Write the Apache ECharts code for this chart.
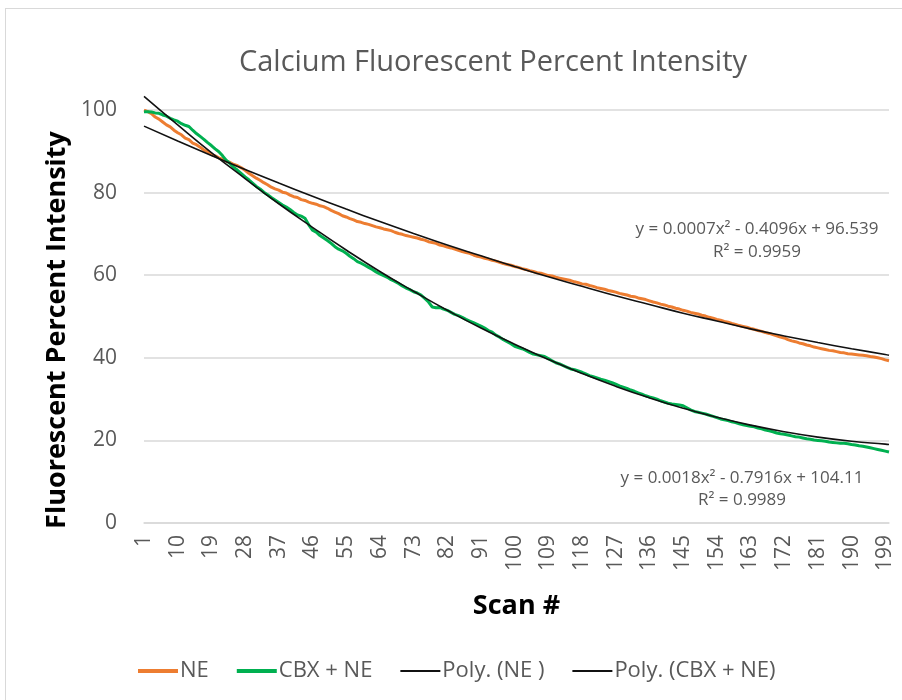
<!DOCTYPE html>
<html>
<head>
<meta charset="utf-8">
<script src="https://cdn.jsdelivr.net/npm/echarts@6/dist/echarts.min.js"></script>
<style>
  html, body { margin: 0; padding: 0; background: #fff; overflow: hidden; }
  #frame { position: absolute; left: 5px; top: 8px; width: 900px; height: 700px; border: 1px solid #d9d9d9; box-sizing: border-box; }
  #chart { position: absolute; left: 0; top: 0; width: 902px; height: 700px; }
</style>
</head>
<body>
<div id="frame"></div>
<div id="chart"></div>
<script>
// scans 1..200
const scans = Array.from({ length: 200 }, (_, i) => String(i + 1))

const neValues = [
  100.0, 99.6, 99.1, 98.3, 97.8, 97.1, 96.4, 95.9, 95.1, 94.5,
  94.0, 93.2, 92.8, 92.0, 91.6, 91.0, 90.3, 89.9, 89.2, 88.9,
  88.4, 88.1, 87.6, 87.3, 86.8, 86.5, 86.0, 85.4, 84.7, 84.1,
  83.5, 83.0, 82.4, 81.9, 81.3, 80.9, 80.6, 80.1, 79.9, 79.4,
  79.0, 78.8, 78.3, 78.1, 77.7, 77.4, 77.2, 76.8, 76.6, 76.2,
  75.7, 75.3, 74.9, 74.4, 74.1, 73.7, 73.4, 73.0, 72.8, 72.5,
  72.3, 72.0, 71.7, 71.5, 71.2, 71.0, 70.8, 70.4, 70.1, 69.9,
  69.6, 69.4, 69.2, 69.0, 68.7, 68.5, 68.1, 67.9, 67.7, 67.3,
  67.1, 66.8, 66.6, 66.3, 66.0, 65.7, 65.5, 65.3, 64.9, 64.6,
  64.4, 64.1, 63.9, 63.6, 63.4, 63.1, 62.8, 62.6, 62.4, 62.1,
  61.9, 61.6, 61.4, 61.1, 60.9, 60.6, 60.5, 60.2, 59.9, 59.8,
  59.5, 59.3, 59.1, 58.9, 58.7, 58.4, 58.2, 57.9, 57.8, 57.5,
  57.3, 57.0, 56.8, 56.6, 56.3, 56.1, 55.9, 55.6, 55.4, 55.2,
  54.9, 54.8, 54.5, 54.3, 54.1, 53.8, 53.5, 53.3, 53.0, 52.8,
  52.5, 52.3, 52.0, 51.8, 51.5, 51.3, 51.0, 50.8, 50.6, 50.3,
  50.1, 49.8, 49.6, 49.3, 49.1, 48.8, 48.6, 48.3, 48.1, 47.8,
  47.6, 47.4, 47.1, 46.9, 46.6, 46.4, 46.1, 45.9, 45.6, 45.3,
  45.0, 44.8, 44.4, 44.1, 43.9, 43.6, 43.4, 43.1, 42.9, 42.6,
  42.4, 42.2, 42.0, 41.8, 41.7, 41.5, 41.3, 41.2, 41.0, 40.9,
  40.8, 40.7, 40.6, 40.5, 40.3, 40.2, 40.0, 39.8, 39.5, 39.3
]

const cbxValues = [
  99.6, 99.6, 99.5, 99.3, 99.2, 98.8, 98.5, 98.0, 97.6, 97.3,
  96.7, 96.3, 96.0, 95.1, 94.3, 93.6, 92.9, 92.1, 91.4, 90.6,
  89.9, 88.9, 87.8, 87.0, 86.1, 85.4, 84.6, 83.8, 83.1, 82.3,
  81.5, 80.9, 80.1, 79.5, 78.8, 78.2, 77.6, 77.0, 76.5, 75.9,
  75.2, 74.6, 74.3, 73.8, 72.2, 70.9, 70.4, 69.6, 69.0, 68.4,
  67.7, 66.9, 66.3, 65.9, 65.3, 64.6, 64.0, 63.3, 62.9, 62.4,
  61.9, 61.4, 60.8, 60.3, 59.9, 59.5, 58.9, 58.5, 58.0, 57.4,
  56.9, 56.5, 56.0, 55.7, 55.2, 54.4, 53.5, 52.3, 52.1, 52.2,
  51.8, 51.5, 51.0, 50.5, 50.2, 49.8, 49.3, 48.9, 48.5, 48.1,
  47.7, 47.2, 46.6, 46.2, 45.5, 45.0, 44.4, 43.9, 43.4, 42.8,
  42.5, 42.2, 41.8, 41.3, 40.9, 40.7, 40.5, 40.3, 39.8, 39.3,
  38.8, 38.5, 38.1, 37.7, 37.3, 37.1, 36.8, 36.5, 36.1, 35.7,
  35.4, 35.1, 34.8, 34.6, 34.3, 34.0, 33.6, 33.2, 32.9, 32.6,
  32.2, 31.9, 31.5, 31.2, 30.8, 30.5, 30.3, 30.0, 29.6, 29.3,
  29.0, 28.8, 28.7, 28.6, 28.4, 27.9, 27.4, 27.0, 26.8, 26.6,
  26.4, 26.1, 25.8, 25.5, 25.2, 25.0, 24.8, 24.5, 24.3, 24.0,
  23.8, 23.6, 23.4, 23.3, 23.0, 22.8, 22.5, 22.3, 22.1, 21.8,
  21.6, 21.5, 21.3, 21.1, 20.9, 20.8, 20.6, 20.4, 20.3, 20.1,
  20.0, 19.9, 19.8, 19.6, 19.5, 19.4, 19.3, 19.3, 19.2, 19.0,
  18.9, 18.7, 18.6, 18.4, 18.2, 18.0, 17.8, 17.6, 17.4, 17.2
]

// trendline values read at scans 1, 10, 19, ... 199 and 200
const trendScans = [1, 10, 19, 28, 37, 46, 55, 64, 73, 82, 91, 100, 109, 118, 127, 136, 145, 154, 163, 172, 181, 190, 199, 200]
const neTrend = [96.1, 92.5, 89.0, 85.6, 82.3, 79.1, 76.0, 73.0, 70.1, 67.3, 64.7, 62.1, 59.6, 57.3, 55.0, 52.9, 50.8, 48.9, 47.0, 45.3, 43.7, 42.2, 40.8, 40.6]
const cbxTrend = [103.3, 96.4, 89.7, 83.4, 77.3, 71.6, 66.1, 60.9, 56.1, 51.5, 47.2, 43.3, 39.6, 36.2, 33.1, 30.3, 27.8, 25.6, 23.7, 22.1, 20.8, 19.8, 19.1, 19.0]

const neEquation = ['y = 0.0007x² - 0.4096x + 96.539', 'R² = 0.9959']
const cbxEquation = ['y = 0.0018x² - 0.7916x + 104.11', 'R² = 0.9989']

function sparse(vals) {
  const arr = new Array(scans.length).fill(null)
  trendScans.forEach((s, i) => { arr[s - 1] = vals[i] })
  return arr
}

const FONT = '"Open Sans", sans-serif'
const GRAY = '#595959'
const THICK = 'path://M0,0 H40 V4 H0 Z'
const THIN = 'path://M0,0 H40 V2 H0 Z'

const chart = echarts.init(document.getElementById('chart'))

chart.setOption({
  animation: false,
  textStyle: { fontFamily: FONT },
  title: {
    text: 'Calcium Fluorescent Percent Intensity',
    left: 488,
    textAlign: 'center',
    top: 43,
    textStyle: { fontFamily: FONT, fontSize: 29, fontWeight: 'normal', color: GRAY }
  },
  grid: { left: 144, right: 13, top: 110, bottom: 177, containLabel: false },
  legend: {
    orient: 'horizontal',
    top: 655,
    left: 133,
    itemWidth: 40,
    itemHeight: 14,
    itemGap: 28,
    itemStyle: { borderWidth: 0 },
    lineStyle: { width: 0 },
    textStyle: { fontFamily: FONT, fontSize: 22, color: GRAY, padding: [0, 0, 0, -3] },
    data: [
      { name: 'NE', icon: THICK },
      { name: 'CBX + NE', icon: THICK },
      { name: 'Poly. (NE )', icon: THIN },
      { name: 'Poly. (CBX + NE)', icon: THIN }
    ]
  },
  xAxis: {
    type: 'category',
    data: scans,
    boundaryGap: false,
    name: 'Scan #',
    nameLocation: 'middle',
    nameGap: 70,
    nameTextStyle: { fontFamily: FONT, fontSize: 27, fontWeight: 'bold', color: '#000' },
    axisLine: { lineStyle: { color: '#d9d9d9', width: 1.5 } },
    axisTick: { show: false },
    axisLabel: { interval: 8, rotate: 90, fontSize: 21, color: GRAY, margin: 12, fontFamily: FONT }
  },
  yAxis: {
    type: 'value',
    min: 0,
    max: 100,
    interval: 20,
    axisLine: { show: false },
    axisTick: { show: false },
    axisLabel: { fontSize: 21, color: GRAY, margin: 27, fontFamily: FONT },
    splitLine: { lineStyle: { color: '#d9d9d9', width: 1.5 } }
  },
  series: [
    {
      name: 'NE', type: 'line', data: neValues, symbol: 'none',
      lineStyle: { color: '#ED7D31', width: 3 }, itemStyle: { color: '#ED7D31' }, z: 2
    },
    {
      name: 'CBX + NE', type: 'line', data: cbxValues, symbol: 'none',
      lineStyle: { color: '#00B050', width: 3 }, itemStyle: { color: '#00B050' }, z: 2
    },
    {
      name: 'Poly. (NE )', type: 'line', data: sparse(neTrend), symbol: 'none', connectNulls: true,
      smooth: true, clip: false,
      lineStyle: { color: '#111', width: 1.6 }, itemStyle: { color: '#111' }, z: 3
    },
    {
      name: 'Poly. (CBX + NE)', type: 'line', data: sparse(cbxTrend), symbol: 'none', connectNulls: true,
      smooth: true, clip: false,
      lineStyle: { color: '#111', width: 1.6 }, itemStyle: { color: '#111' }, z: 3
    }
  ],
  graphic: [
    {
      type: 'text', x: 57, y: 330, rotation: Math.PI / 2,
      style: { text: 'Fluorescent Percent Intensity', fontSize: 27, fontWeight: 'bold', fill: '#000', fontFamily: FONT, align: 'center', verticalAlign: 'middle' }
    },
    { type: 'text', x: 757, y: 229, style: { text: neEquation[0], fontSize: 17, fill: GRAY, fontFamily: FONT, align: 'center', verticalAlign: 'middle' } },
    { type: 'text', x: 757, y: 252, style: { text: neEquation[1], fontSize: 17, fill: GRAY, fontFamily: FONT, align: 'center', verticalAlign: 'middle' } },
    { type: 'text', x: 742, y: 478, style: { text: cbxEquation[0], fontSize: 17, fill: GRAY, fontFamily: FONT, align: 'center', verticalAlign: 'middle' } },
    { type: 'text', x: 742, y: 500, style: { text: cbxEquation[1], fontSize: 17, fill: GRAY, fontFamily: FONT, align: 'center', verticalAlign: 'middle' } }
  ]
})
</script>
</body>
</html>
